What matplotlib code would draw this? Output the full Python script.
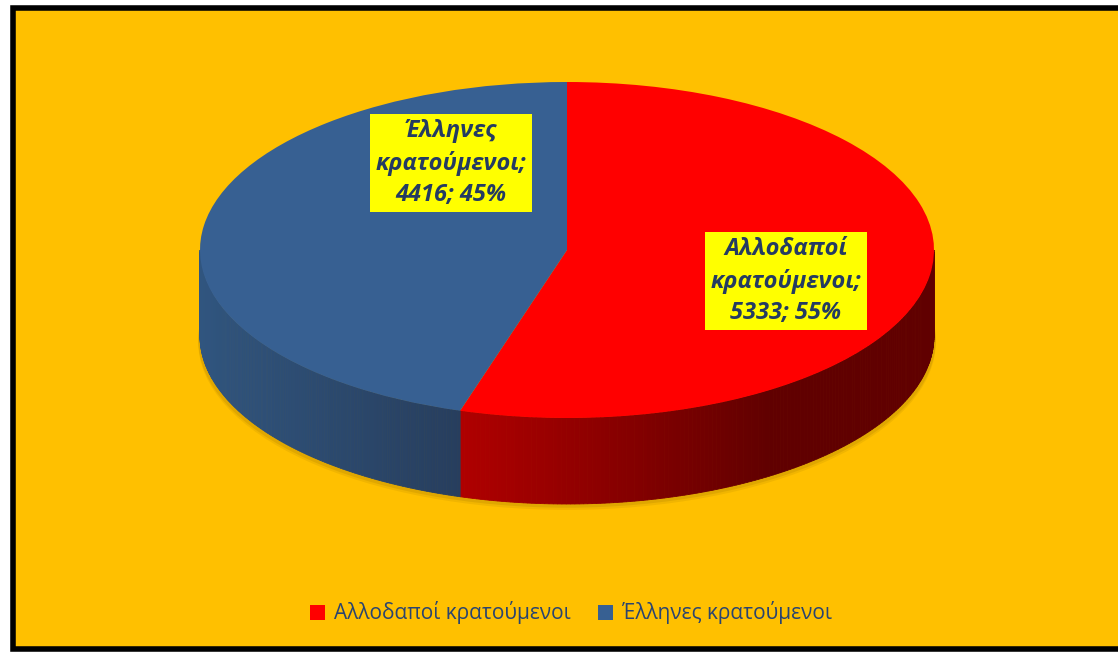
import matplotlib.pyplot as plt
import numpy as np
from matplotlib.patches import Polygon, Rectangle, Ellipse
from matplotlib.colors import to_rgb

# data
labels = ['Αλλοδαποί κρατούμενοι', 'Έλληνες κρατούμενοι']
values = [5333, 4416]
percents = [55, 45]
top_colors = ['#FF0000', '#376092']
side_light = ['#B00000', '#30557F']
side_dark = ['#600000', '#273E5E']

W, H = 1118, 652
cx, cy, rx, ry, depth = 567, 250, 367, 168, 86


def px(x, y):
    # pixel position -> pie units
    return (x - cx) / rx, (cy - y) / ry


def mix(c1, c2, f):
    a, b = np.array(to_rgb(c1)), np.array(to_rgb(c2))
    return tuple(a + (b - a) * f)


fig = plt.figure(figsize=(W / 100, H / 100), dpi=100)
fig.patch.set_facecolor('white')
ax = fig.add_axes([0, 0, 1, 1])
ax.set_facecolor('none')
ax.axis('off')

# orange chart area with black frame
ax.add_patch(Rectangle((13 / W, 3 / H), (1125 - 13) / W, (644 - 3) / H,
                       transform=ax.transAxes, facecolor='#FFC000',
                       edgecolor='black', linewidth=4.0, zorder=0, clip_on=False))

d = depth / ry

# soft shadow just under the bottom edge
for off, a in [(0.035, 0.10), (0.022, 0.14)]:
    ax.add_patch(Ellipse((0.0, -d - off), 2.01, 2.0,
                         facecolor='#7A5500', edgecolor='none', alpha=a, zorder=1))

# side walls (front half only), drawn as thin strips for the shading
total = sum(values)
start = 90.0
for i, v in enumerate(values):
    a1 = start - 360.0 * v / total
    a2 = start
    start = a1
    lo, hi = max(a1, -180.0), min(a2, 0.0)
    if lo >= hi:
        continue
    t = np.radians(np.linspace(lo, hi, 160))
    for k in range(len(t) - 1):
        xa, xb = np.cos(t[k]), np.cos(t[k + 1])
        ya, yb = np.sin(t[k]), np.sin(t[k + 1])
        xm = (xa + xb) / 2
        if i == 0:
            f = np.clip((xm - np.cos(np.radians(lo))) / 0.85, 0, 1)
        else:
            f = np.clip((xm + 1) / (np.cos(np.radians(hi)) + 1), 0, 1)
        col = mix(side_light[i], side_dark[i], f)
        ax.add_patch(Polygon([(xa, ya), (xb, yb), (xb, yb - d), (xa, ya - d)],
                             closed=True, facecolor=col, edgecolor=col,
                             linewidth=0.6, zorder=2))

# top face
wedges, _ = ax.pie(values, colors=top_colors, startangle=90, counterclock=False,
                   radius=1, center=(0, 0), frame=True,
                   wedgeprops=dict(linewidth=0, zorder=3))
for w in wedges:
    w.set_zorder(3)

ax.set_aspect('auto')
ax.set_xlim(px(0, 0)[0], px(W, 0)[0])
ax.set_ylim(px(0, H)[1], px(0, 0)[1])
ax.axis('off')

# data labels
label_pos = [(786, 281), (451, 163)]
for i, (lx, ly) in enumerate(label_pos):
    name = labels[i].replace(' ', '\n')
    txt = '%s;\n%d; %d%%' % (name, values[i], percents[i])
    ax.text(*px(lx, ly), txt, ha='center', va='center', fontsize=17,
            fontweight='bold', fontstyle='italic', color='#243B62',
            family=['Open Sans', 'DejaVu Sans'], linespacing=1.38, zorder=5,
            bbox=dict(boxstyle='square,pad=0.22', facecolor='#FFFF00',
                      edgecolor='none'))

# legend
leg = ax.legend(wedges, labels, loc='center', bbox_to_anchor=(571 / W, 1 - 613 / H),
                bbox_transform=fig.transFigure, ncol=2, frameon=False,
                handlelength=0.7, handleheight=0.7, handletextpad=0.45,
                columnspacing=1.3, prop=dict(family=['Open Sans', 'DejaVu Sans'], size=15))
for t in leg.get_texts():
    t.set_color('#2A4470')

fig.savefig('out.png', dpi=100, facecolor=fig.get_facecolor())
